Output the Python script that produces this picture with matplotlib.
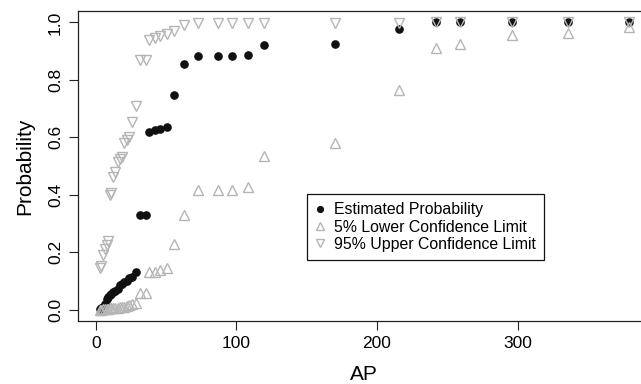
import numpy as np
import matplotlib
matplotlib.use('Agg')
import matplotlib.pyplot as plt

# AP values and estimated probability with 5% / 95% confidence limits
ap = [3.0, 4.0, 5.0, 6.5, 8.0, 9.0, 10.0, 11.0, 12.5, 14.0, 15.5, 17.0, 18.5,
      20.0, 22.0, 23.5, 25.6, 29.0, 31.6, 36.0, 38.0, 42.0, 45.7, 50.9, 55.8,
      62.8, 73.0, 87.0, 97.0, 108.1, 119.9, 170.2, 215.9, 242.0, 259.1, 296.1,
      336.1, 379.5]
est = [0.003, 0.006, 0.010, 0.020, 0.035, 0.045, 0.050, 0.055, 0.060, 0.065,
       0.070, 0.085, 0.090, 0.095, 0.100, 0.110, 0.115, 0.132, 0.328, 0.328,
       0.620, 0.624, 0.630, 0.636, 0.748, 0.855, 0.884, 0.884, 0.884, 0.888,
       0.922, 0.926, 0.977, 1.0, 1.0, 1.0, 1.0, 1.0]
lower = [0.0, 0.0, 0.0005, 0.001, 0.002, 0.003, 0.004, 0.005, 0.005, 0.006,
         0.007, 0.008, 0.009, 0.010, 0.012, 0.015, 0.018, 0.023, 0.058, 0.058,
         0.130, 0.132, 0.139, 0.143, 0.230, 0.328, 0.415, 0.415, 0.415, 0.427,
         0.534, 0.580, 0.766, 0.911, 0.926, 0.957, 0.963, 0.984]
upper = [0.145, 0.150, 0.190, 0.210, 0.225, 0.240, 0.400, 0.405, 0.460, 0.480,
         0.515, 0.525, 0.530, 0.580, 0.590, 0.600, 0.655, 0.708, 0.870, 0.870,
         0.940, 0.945, 0.953, 0.960, 0.972, 0.990, 0.998, 0.998, 0.998, 0.998,
         0.998, 0.998, 0.998, 1.0, 1.0, 1.0, 1.0, 1.0]

plt.rcParams['font.family'] = ['Liberation Sans', 'DejaVu Sans']

grey = '#b5b5b5'
fig = plt.figure(figsize=(6.41, 3.84), dpi=100)
ax = fig.add_axes([78 / 641, 63 / 384, 572 / 641, 310 / 384])

ax.plot(ap, est, 'o', color='#111111', ms=5.2, mec='#111111',
        label='Estimated Probability')
ax.plot(ap, lower, '^', color=grey, ms=6.6, mfc='none', mew=1.0,
        label='5% Lower Confidence Limit')
ax.plot(ap, upper, 'v', color=grey, ms=6.6, mfc='none', mew=1.0,
        label='95% Upper Confidence Limit')

ax.set_xlim(-12.6, 394.2)
ax.set_ylim(-0.04, 1.04)
ax.set_xticks([0, 100, 200, 300])
ax.set_yticks([0.0, 0.2, 0.4, 0.6, 0.8, 1.0])
ax.set_yticklabels(['0.0', '0.2', '0.4', '0.6', '0.8', '1.0'],
                   rotation=90, va='center')
ax.tick_params(direction='out', length=6.2, width=0.8, color='#222222',
               labelsize=12.5, pad=4.6)
for sp in ax.spines.values():
    sp.set_color('#222222')
    sp.set_linewidth(0.9)

ax.set_xlabel('AP', fontsize=15, va='center')
ax.xaxis.set_label_coords(0.5, -0.171)
ax.set_ylabel('Probability', fontsize=15, va='center')
ax.yaxis.set_label_coords(-0.093, 0.5)

leg = ax.legend(loc='upper left', bbox_to_anchor=(0.4003, 0.4087),
                borderaxespad=0, fancybox=False, framealpha=1,
                edgecolor='#111111', fontsize=11.4, handlelength=0.6,
                handletextpad=0.6, labelspacing=0.15, borderpad=0.5,
                markerscale=0.8)
leg.get_frame().set_linewidth(0.9)

plt.savefig('out.png', dpi=100)
